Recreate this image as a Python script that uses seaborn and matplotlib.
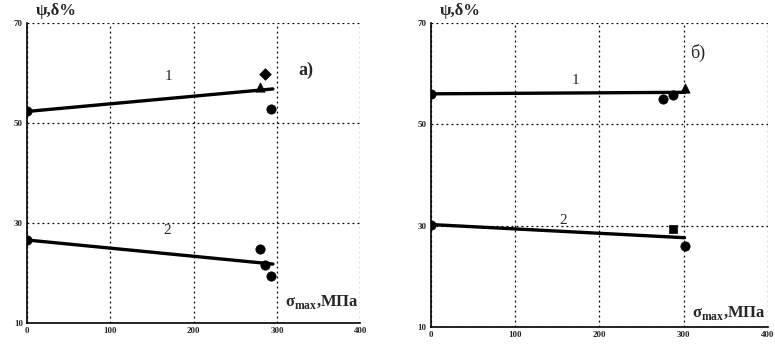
import matplotlib
matplotlib.use("Agg")
import matplotlib.pyplot as plt
import seaborn as sns
import pandas as pd

sns.set_theme(style="white")
plt.rcParams['font.family'] = ['Liberation Serif', 'DejaVu Serif']
plt.rcParams['mathtext.fontset'] = 'custom'
plt.rcParams['mathtext.rm'] = 'Liberation Serif'
plt.rcParams['mathtext.bf'] = 'Liberation Serif:bold'

# ---- data ----
# panel a)
a_line1_x = [0, 295]
a_line1_y = [52.3, 56.8]
a_line2_x = [0, 295]
a_line2_y = [26.6, 21.8]
a_pts1_x = [0, 280, 286, 293]
a_pts1_y = [52.3, 57.2, 59.8, 52.8]
a_pts1_m = ["o", "^", "D", "o"]
a_pts2_x = [0, 279, 286, 293]
a_pts2_y = [26.6, 24.8, 21.7, 19.5]
a_pts2_m = ["o", "o", "o", "o"]

# panel б)
b_line1_x = [0, 301]
b_line1_y = [56.0, 56.3]
b_line2_x = [0, 301]
b_line2_y = [30.2, 27.6]
b_pts1_x = [0, 275, 287, 301]
b_pts1_y = [56.0, 55.0, 55.8, 57.2]
b_pts1_m = ["o", "o", "o", "^"]
b_pts2_x = [0, 287, 301]
b_pts2_y = [30.2, 29.3, 26.0]
b_pts2_m = ["o", "s", "o"]

x_ticks = [0, 100, 200, 300, 400]
y_ticks = [10, 30, 50, 70]
y_label = "ψ,δ%"
x_label = "σ$_{\\mathbf{max}}$,МПа"

fig = plt.figure(figsize=(7.75, 3.47), dpi=100)
ax_a = fig.add_axes([0.035, 0.069, 0.43, 0.865])
ax_b = fig.add_axes([0.556, 0.058, 0.435, 0.876])


def draw(ax, l1x, l1y, l2x, l2y, p1x, p1y, p1m, p2x, p2y, p2m, tag, tagpos, tagweight, lab1, lab2, xlabpos):
    for lx, ly in ((l1x, l1y), (l2x, l2y)):
        sns.lineplot(x=lx, y=ly, ax=ax, color="black", lw=2.4, zorder=4)
    for px, py, pm in ((p1x, p1y, p1m), (p2x, p2y, p2m)):
        df = pd.DataFrame({"x": px, "y": py, "m": pm})
        for mk, sub in df.groupby("m"):
            size = {"D": 35, "s": 32}.get(mk, 45)
            sns.scatterplot(data=sub, x="x", y="y", ax=ax, marker=mk, color="black",
                            s=size, edgecolor="black", linewidth=0.5, zorder=5, legend=False)
    ax.set_xlim(0, 400)
    ax.set_ylim(10, 70)
    ax.set_xticks(x_ticks)
    ax.set_yticks(y_ticks)
    ax.set_xticklabels([str(v) for v in x_ticks], fontsize=6.5, fontweight="bold")
    ax.set_yticklabels([str(v) for v in y_ticks], fontsize=6.5, fontweight="bold")
    ax.tick_params(axis="both", length=0, pad=3)
    ax.set_xlabel("")
    ax.set_ylabel("")
    ax.grid(True, which="major", color="black", linestyle=(0, (1.5, 2.5)), linewidth=0.9)
    ax.set_axisbelow(True)
    for side in ("left", "bottom"):
        ax.spines[side].set_color("black")
        ax.spines[side].set_linewidth(1.2)
    for side in ("top", "right"):
        ax.spines[side].set_visible(False)
    ax.text(tagpos[0], tagpos[1], tag, fontsize=13, fontweight=tagweight, ha="left", va="center")
    ax.text(lab1[0], lab1[1], "1", fontsize=11, ha="center", va="center")
    ax.text(lab2[0], lab2[1], "2", fontsize=11, ha="center", va="center")
    ax.text(xlabpos[0], xlabpos[1], x_label, fontsize=12, fontweight="bold", ha="right", va="center")
    ax.text(10, 70.8, y_label, fontsize=12, fontweight="bold", ha="left", va="bottom")


draw(ax_a, a_line1_x, a_line1_y, a_line2_x, a_line2_y,
     a_pts1_x, a_pts1_y, a_pts1_m, a_pts2_x, a_pts2_y, a_pts2_m,
     "a)", (326, 60.5), "bold", (170, 59.2), (168, 28.6), (398, 14.2))
draw(ax_b, b_line1_x, b_line1_y, b_line2_x, b_line2_y,
     b_pts1_x, b_pts1_y, b_pts1_m, b_pts2_x, b_pts2_y, b_pts2_m,
     "б)", (308, 64), "normal", (171, 58.7), (157, 31), (398, 12.8))

fig.savefig("out.png", dpi=100)
